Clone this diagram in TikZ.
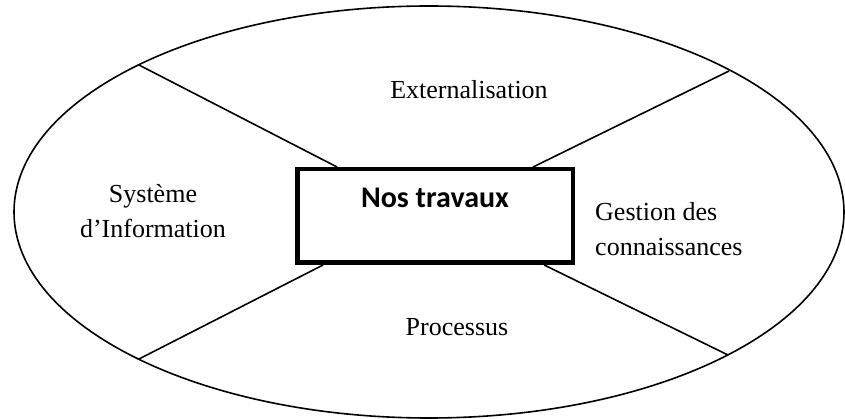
\documentclass[tikz,border=0pt]{standalone}
\usepackage{fontspec}
\setmainfont{Liberation Serif}
\newfontfamily\boxfont{Carlito}
\usetikzlibrary{positioning,calc,shapes.geometric}
\tikzstyle{field} = [ellipse,
					 draw=black,
					 line width=1.6pt,
					 minimum width=830pt,
					 minimum height=412pt,
					 inner sep=0pt]
\tikzstyle{core} = [draw=black,
					line width=4.5pt,
					minimum width=275.5pt,
					minimum height=93.5pt,
					inner sep=0pt,
					fill=white]
\tikzstyle{core_title} = [font=\boxfont\bfseries\fontsize{30}{36}\selectfont,
						  inner sep=0pt]
\tikzstyle{area} = [font=\fontsize{26}{35}\selectfont,
					inner sep=0pt,
					align=center]
\tikzstyle{split} = [line width=1.6pt]

\begin{document}
\begin{tikzpicture}[x=1pt,y=-1pt]
	\useasboundingbox (0,0) rectangle (845,419);

	\node[field] (field) at (429,212) {};

	%%%%%%%%%%%%%%
	% SEPARATORS %
	%%%%%%%%%%%%%%
	\coordinate (ul) at (139,65);
	\coordinate (ur) at (729,71);
	\coordinate (ll) at (139,359);
	\coordinate (lr) at (728,355);

	\node[core] (box) at (435,216) {};

	\draw[split] (ul) -- ($(box.north west)!0.15!(box.north east)$);
	\draw[split] (ur) -- ($(box.north west)!0.85!(box.north east)$);
	\draw[split] (ll) -- ($(box.south west)!0.10!(box.south east)$);
	\draw[split] (lr) -- ($(box.south west)!0.89!(box.south east)$);

	%%%%%%%%%
	% AREAS %
	%%%%%%%%%
	\node[core_title, below=21pt of box.north] (title) {Nos travaux};
	\node[area] (ext) at (469,90) {Externalisation};
	\node[area] (si) at (153,211) {Système\\d’Information};
	\node[area, anchor=west, align=left] (gc) at (595,229) {Gestion des\\connaissances};
	\node[area] (proc) at (457,327) {Processus};

\end{tikzpicture}
\end{document}
